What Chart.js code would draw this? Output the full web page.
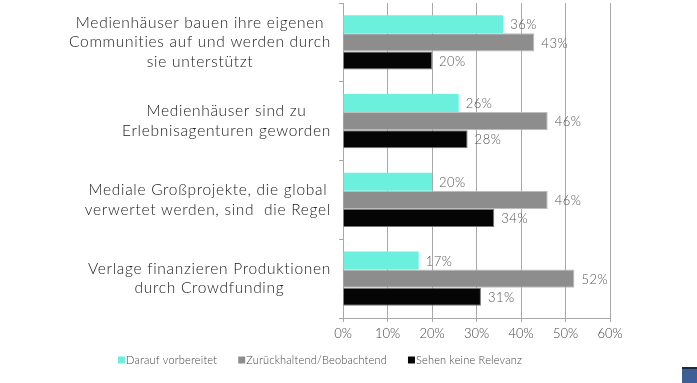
<!DOCTYPE html>
<html>
<head>
<meta charset="utf-8">
<script src="https://cdn.jsdelivr.net/npm/chart.js@4/dist/chart.umd.min.js"></script>
<style>
  html, body { margin: 0; padding: 0; background: #fff; }
  #wrap { position: relative; width: 697px; height: 383px; }
  #c { position: absolute; left: 0; top: 0; }
  #icon { position: absolute; left: 682px; top: 367px; width: 15px; height: 16px; background: #3d5f96; border-top: 2px solid #1e2a44; box-sizing: border-box; }
</style>
</head>
<body>
<div id="wrap">
  <canvas id="c" width="640" height="383"></canvas>
  <div id="icon"></div>
</div>
<script>
const categories = [
  ["Medienhäuser bauen ihre eigenen", "Communities auf und werden durch", "sie unterstützt"],
  ["Medienhäuser sind zu", "Erlebnisagenturen geworden"],
  ["Mediale Großprojekte, die global", "verwertet werden, sind  die Regel"],
  ["Verlage finanzieren Produktionen", "durch Crowdfunding"]
];
const seriesNames = ["Darauf vorbereitet", "Zurückhaltend/Beobachtend", "Sehen keine Relevanz"];
const vorbereitet = [36, 26, 20, 17];
const zurueckhaltend = [43, 46, 46, 52];
const keineRelevanz = [20, 28, 34, 31];
const tickValues = [0, 10, 20, 30, 40, 50, 60];
const seriesColors = ["#6cf0de", "#8d8d8d", "#050505"];

const FONT = "Lato";

const catLabelPlugin = {
  id: 'catLabels',
  afterDraw(chart) {
    const ctx = chart.ctx;
    const ys = chart.scales.y;
    ctx.save();
    ctx.font = "300 15.5px " + FONT;
    ctx.letterSpacing = "0.7px";
    ctx.fillStyle = "#1a1a1a";
    ctx.textBaseline = "middle";
    ctx.textAlign = "left";
    const lh = 19.5;
    categories.forEach((lines, i) => {
      const cy = ys.getPixelForValue(i);
      const ws = lines.map(l => ctx.measureText(l).width);
      const maxW = Math.max(...ws);
      const cx = 331 - maxW / 2;
      const y0 = cy - (lines.length - 1) * lh / 2;
      lines.forEach((l, k) => ctx.fillText(l, cx - ws[k] / 2, y0 + k * lh));
    });
    ctx.restore();
  }
};

const valueLabelPlugin = {
  id: 'valueLabels',
  afterDatasetsDraw(chart) {
    const ctx = chart.ctx;
    ctx.save();
    ctx.font = "300 13px " + FONT;
    ctx.letterSpacing = "0.5px";
    ctx.fillStyle = "#555";
    ctx.textBaseline = "middle";
    ctx.textAlign = "left";
    chart.data.datasets.forEach((ds, di) => {
      const meta = chart.getDatasetMeta(di);
      meta.data.forEach((bar, i) => {
        ctx.fillText(ds.data[i] + "%", bar.x + 7, bar.y + 1);
      });
    });
    ctx.restore();
  }
};

const legendPlugin = {
  id: 'customLegend',
  afterDraw(chart) {
    const ctx = chart.ctx;
    ctx.save();
    ctx.font = "300 11px " + FONT;
    ctx.letterSpacing = "0.2px";
    ctx.textBaseline = "middle";
    ctx.textAlign = "left";
    const box = 7, gap = 1, spacing = 21;
    const widths = seriesNames.map(n => box + gap + ctx.measureText(n).width);
    const total = widths.reduce((a, b) => a + b, 0) + spacing * (seriesNames.length - 1);
    let x = 320 - total / 2;
    const y = 360;
    seriesNames.forEach((n, i) => {
      ctx.fillStyle = seriesColors[i];
      ctx.fillRect(x, y - box / 2, box, box);
      ctx.fillStyle = "#444";
      ctx.fillText(n, x + box + gap, y);
      x += widths[i] + spacing;
    });
    ctx.restore();
  }
};

new Chart(document.getElementById('c'), {
  type: 'bar',
  data: {
    labels: categories,
    datasets: [
      { label: seriesNames[0], data: vorbereitet, backgroundColor: seriesColors[0], borderColor: "#5fdccb", borderWidth: 0 },
      { label: seriesNames[1], data: zurueckhaltend, backgroundColor: seriesColors[1], borderColor: "#bdbdbd", borderWidth: 1 },
      { label: seriesNames[2], data: keineRelevanz, backgroundColor: seriesColors[2], borderColor: "#777", borderWidth: 1 }
    ]
  },
  options: {
    indexAxis: 'y',
    responsive: false,
    animation: false,
    devicePixelRatio: 1,
    layout: { padding: { top: 3, right: 30, bottom: 35, left: 0 } },
    datasets: { bar: { categoryPercentage: 0.69, barPercentage: 1.0 } },
    plugins: { legend: { display: false }, tooltip: { enabled: false } },
    scales: {
      x: {
        min: 0, max: 60,
        afterBuildTicks(scale) { scale.ticks = tickValues.map(v => ({ value: v })); },
        afterFit(scale) { scale.height = 30; },
        ticks: {
          callback: v => v + "%",
          font: { family: FONT, size: 13, weight: 300 },
          color: "#444",
          padding: 4
        },
        grid: { color: "#a8a8a8", lineWidth: 1, tickLength: 4, drawTicks: true },
        border: { color: "#a8a8a8", width: 1 }
      },
      y: {
        afterFit(scale) { scale.width = 343; },
        ticks: { display: false },
        grid: { drawOnChartArea: false, tickLength: 4, color: "#a8a8a8", offset: true },
        border: { color: "#a8a8a8", width: 1 }
      }
    }
  },
  plugins: [catLabelPlugin, valueLabelPlugin, legendPlugin]
});
</script>
</body>
</html>
